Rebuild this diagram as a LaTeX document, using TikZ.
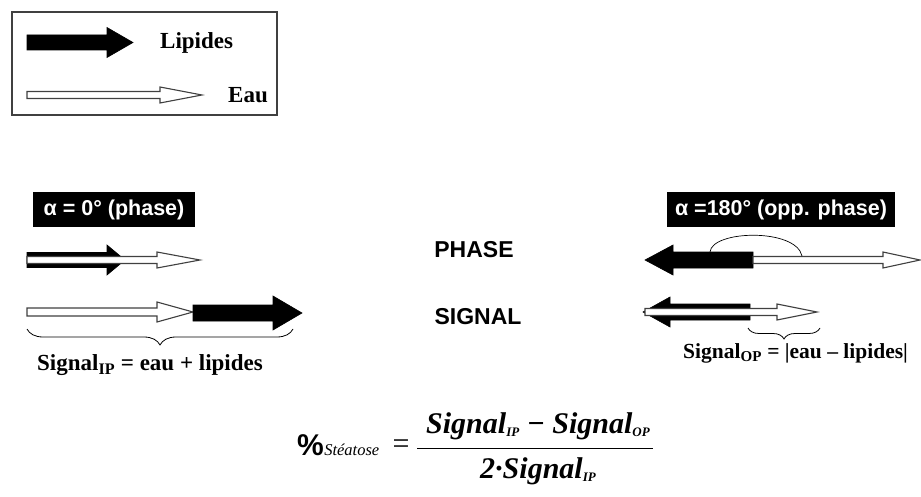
\documentclass[tikz,border=0pt]{standalone}
\usepackage{fontspec}
\setmainfont{Liberation Serif}
\newfontfamily\arialfont{Liberation Sans}
\usetikzlibrary{decorations.pathreplacing}

% block arrow: style, tail x, head base x, tip x, y, shaft half width, head half width
\newcommand{\blocarrow}[7]{%
  \draw[#1] (#2,#5-#6) -- (#3,#5-#6) -- (#3,#5-#7) -- (#4,#5) -- (#3,#5+#7) -- (#3,#5+#6) -- (#2,#5+#6) -- cycle;}
\newcommand{\petit}[1]{{\fontsize{13}{13}\selectfont\raisebox{-3pt}{#1}}}

\begin{document}
\begin{tikzpicture}[x=1pt,y=-1pt,
    lipide/.style={fill=black,draw=black,line width=0.6pt},
    eau/.style={fill=white,draw=black!75,line width=1.1pt},
    txt/.style={inner sep=0pt,font=\bfseries\fontsize{23}{25}\selectfont},
    titre/.style={inner sep=0pt,font=\arialfont\bfseries\fontsize{23}{25}\selectfont},
    alphabox/.style={fill=black,text=white,inner sep=0pt,minimum height=35pt,font=\arialfont\bfseries\fontsize{21.5}{23}\selectfont},
    formtxt/.style={inner sep=0pt,font=\bfseries\itshape\fontsize{30}{32}\selectfont},
    accolade/.style={decorate,decoration={brace,mirror,amplitude=#1},line width=0.8pt}]
    \useasboundingbox (0,0) rectangle (921,497);
    % legend
    \node[draw=black!75,line width=1.2pt,minimum width=265pt,minimum height=103pt] (legende) at (144.5,63.5) {};
    \blocarrow{lipide}{27}{107}{133}{42.5}{7.5}{15}
    \node[txt,anchor=west] (lipides) at (160,43) {Lipides};
    \blocarrow{eau}{27}{160}{202}{95}{3.5}{8}
    \node[txt,anchor=west] (eauTxt) at (228,95) {Eau};
    % in phase
    \node[alphabox,minimum width=162pt] (alpha0) at (114,209.5) {α = 0° (phase)};
    \blocarrow{lipide}{27}{107}{125}{260}{7.5}{15}
    \blocarrow{eau}{27}{157}{200}{260}{3.5}{8}
    \blocarrow{eau}{27}{157}{193}{312}{4}{10}
    \blocarrow{lipide}{193}{273}{302}{313}{8}{17}
    \draw[accolade=16pt] (27,329) -- (293,329);
    \node[txt,anchor=west] (sigIP) at (37,365) {Signal\textsubscript{IP} = eau + lipides};
    % middle
    \node[titre] (phase) at (474,250) {PHASE};
    \node[titre] (signal) at (478,317) {SIGNAL};
    % opposed phase
    \node[alphabox,minimum width=228pt] (alpha180) at (781,209.5) {α =180° (opp. phase)};
    \blocarrow{lipide}{753}{673}{645}{260}{8}{15}
    \blocarrow{eau}{753}{883}{920}{260}{3.5}{8}
    \draw[line width=0.7pt] (710,252) .. controls (712,230) and (796,228) .. (802,256);
    \blocarrow{lipide}{750}{670}{643}{312}{8}{15}
    \blocarrow{eau}{645}{777}{817}{312}{3.5}{8}
    \draw[accolade=11pt] (748,328) -- (820,328);
    \node[txt,anchor=west,font=\bfseries\fontsize{21.5}{23}\selectfont] (sigOP) at (683,353) {Signal\textsubscript{OP} = |eau – lipides|};
    % formula
    \node[inner sep=0pt,anchor=base west,font=\arialfont\bfseries\fontsize{30}{32}\selectfont] (pourcent) at (297,455) {\%};
    \node[inner sep=0pt,anchor=base west,font=\itshape\fontsize{16.5}{17}\selectfont] (steatose) at (pourcent.base east) {Stéatose};
    \node[inner sep=0pt,font=\fontsize{30}{32}\selectfont] (egal) at (401,447) {=};
    \node[formtxt,anchor=base] (numer) at (538,433) {Signal\petit{IP} − Signal\petit{OP}};
    \node[formtxt,anchor=base] (denom) at (538,478) {2·Signal\petit{IP}};
    \draw[line width=1pt] (417,448) -- (653,448);
\end{tikzpicture}
\end{document}
